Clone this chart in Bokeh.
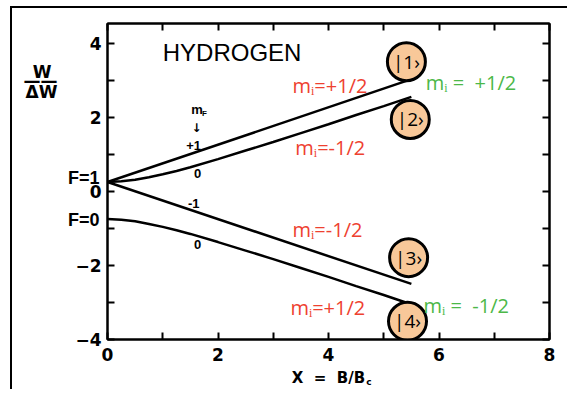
from bokeh.plotting import figure
from bokeh.models import LinearAxis, FixedTicker, Label, Range1d
from bokeh.core.properties import value
from bokeh.embed import file_html
from bokeh.resources import INLINE

# ---- data ----
x_state1 = [0.0, 5.45]
y_state1 = [0.25, 3.00]

x_state2 = [0.0, 0.25, 0.5, 0.75, 1.0, 1.25, 1.5, 2.0, 2.5, 3.0, 3.5, 4.0, 4.5, 5.0, 5.5]
y_state2 = [0.25, 0.27, 0.31, 0.38, 0.46, 0.55, 0.65, 0.87, 1.10, 1.33, 1.57, 1.81, 2.06, 2.30, 2.55]

x_state3 = [0.0, 5.5]
y_state3 = [0.25, -2.50]

x_state4 = [0.0, 0.25, 0.5, 0.75, 1.0, 1.25, 1.5, 2.0, 2.5, 3.0, 3.5, 4.0, 4.5, 5.0, 5.4]
y_state4 = [-0.75, -0.77, -0.81, -0.88, -0.96, -1.05, -1.15, -1.37, -1.60, -1.83, -2.07, -2.31, -2.56, -2.80, -3.00]

ket_labels = ["|1›", "|2›", "|3›", "|4›"]
ket_x = [5.41, 5.48, 5.45, 5.43]
ket_y = [3.50, 1.94, -1.79, -3.51]

x_major = [0, 2, 4, 6, 8]
x_minor = [1, 3, 5, 7]
y_major = [-4, -2, 0, 2, 4]
y_minor = [-3, -1, 1, 3]

NB = "\u00a0"
# side texts placed as tick labels of extra axes
f_level_y = [0.35, -0.77]
f_level_text = ["F=1", "F=0"]
frac_y = [3.21, 2.99, 2.67]
frac_text = ["W" + NB, "——", "ΔW"]
x_title = "X" + NB * 2 + "=" + NB * 2 + "B/B"
sub_x = [4.73]
sub_text = ["c"]

RED = "#ee4130"
GREEN = "#4cb848"
ORANGE = "#f8c899"
TICK_FONT = "DejaVu Sans"

p = figure(frame_width=442, frame_height=316,
           min_border_left=95, min_border_right=18, min_border_top=15, min_border_bottom=30,
           x_range=Range1d(0, 8), y_range=Range1d(-4, 4.53),
           output_backend="svg", toolbar_location=None, x_axis_location=None,
           y_axis_location=None)
p.styles = {"border-left": "2px solid black", "border-top": "2px solid black",
            "margin-left": "10px", "margin-top": "6px"}
p.xgrid.visible = False
p.ygrid.visible = False
p.outline_line_color = "black"
p.outline_line_width = 2
p.background_fill_color = "white"
p.border_fill_color = "white"


def make_axis(ticks, minor, show_labels, standoff=6):
    ax = LinearAxis(ticker=FixedTicker(ticks=ticks, minor_ticks=minor))
    ax.axis_line_color = "black"
    ax.axis_line_width = 2
    ax.major_tick_in = 7
    ax.major_tick_out = 0
    ax.minor_tick_in = 7
    ax.minor_tick_out = 0
    ax.major_tick_line_width = 2
    ax.minor_tick_line_width = 2
    ax.major_tick_line_color = "black"
    ax.minor_tick_line_color = "black"
    if show_labels:
        ax.major_label_text_font = TICK_FONT
        ax.major_label_text_font_style = "bold"
        ax.major_label_text_font_size = "17px"
        ax.major_label_text_color = "black"
        ax.major_label_standoff = standoff
    else:
        ax.major_label_overrides = {t: "" for t in ticks}
        ax.major_label_text_font_size = "1px"
        ax.major_label_standoff = 0
    return ax


def text_axis(ticks, texts, font, size, standoff):
    ax = LinearAxis(ticker=FixedTicker(ticks=ticks),
                    major_label_overrides={t: s for t, s in zip(ticks, texts)})
    ax.axis_line_color = None
    ax.major_tick_line_color = None
    ax.minor_tick_line_color = None
    ax.major_tick_out = 0
    ax.major_tick_in = 0
    ax.minor_tick_out = 0
    ax.minor_tick_in = 0
    ax.major_label_text_font = font
    ax.major_label_text_font_style = "bold"
    ax.major_label_text_font_size = size
    ax.major_label_text_color = "black"
    ax.major_label_standoff = standoff
    return ax


xax = make_axis(x_major, x_minor, True, standoff=8)
xax.axis_label = x_title
xax.axis_label_text_font = TICK_FONT
xax.axis_label_text_font_style = "bold"
xax.axis_label_text_font_size = "15px"
xax.axis_label_text_color = "black"
xax.axis_label_standoff = 5
p.add_layout(xax, "below")
p.add_layout(make_axis(y_major, y_minor, True), "left")
p.add_layout(make_axis(x_major + x_minor, [], False), "above")
p.add_layout(make_axis(y_major + y_minor, [], False), "right")

p.add_layout(text_axis(f_level_y, f_level_text, "Liberation Sans", "18px", -27), "left")
p.add_layout(text_axis(frac_y, frac_text, TICK_FONT, "17px", 7), "left")
p.add_layout(text_axis(sub_x, sub_text, TICK_FONT, "9px", -13), "below")

for xs, ys in [(x_state1, y_state1), (x_state2, y_state2),
               (x_state3, y_state3), (x_state4, y_state4)]:
    p.line(xs, ys, line_color="black", line_width=2.5)

p.scatter(ket_x, ket_y, size=38, fill_color=ORANGE, line_color="black", line_width=3)
p.text(ket_x, ket_y, text=ket_labels, text_font=value("Open Sans"),
       text_font_size="19px", text_align="center", text_baseline="middle",
       text_color="black")


def lab(x, y, t, size, color="black", font="Liberation Sans", style="normal",
        align="left", baseline="middle"):
    p.add_layout(Label(x=x, y=y, text=t, text_font_size=size, text_color=color,
                       text_font=font, text_font_style=style, text_align=align,
                       text_baseline=baseline))


lab(1.0, 3.74, "HYDROGEN", "24px")

# m_F labels
lab(1.62, 2.20, "m", "13px", style="bold", align="center")
lab(1.71, 2.11, "F", "8px", style="bold", align="left")
lab(1.61, 1.70, "↓", "12px", font="DejaVu Sans", style="bold", align="center")
lab(1.56, 1.24, "+1", "13px", style="bold", align="center")
lab(1.63, 0.49, "0", "13px", style="bold", align="center")
lab(1.56, -0.32, "-1", "13px", style="bold", align="center")
lab(1.63, -1.44, "0", "13px", style="bold", align="center")

# red / green m_i labels
lab(3.35, 2.85, "mᵢ=+1/2", "20px", color=RED, font="Open Sans")
lab(3.40, 1.19, "mᵢ=-1/2", "20px", color=RED, font="Open Sans")
lab(3.35, -1.04, "mᵢ=-1/2", "20px", color=RED, font="Open Sans")
lab(3.31, -3.13, "mᵢ=+1/2", "20px", color=RED, font="Open Sans")
lab(5.76, 2.94, "mᵢ =" + NB + " +1/2", "20px", color=GREEN, font="Open Sans")
lab(5.72, -3.09, "mᵢ =" + NB + " -1/2", "20px", color=GREEN, font="Open Sans")

open("out.html", "w").write(file_html(p, INLINE))
